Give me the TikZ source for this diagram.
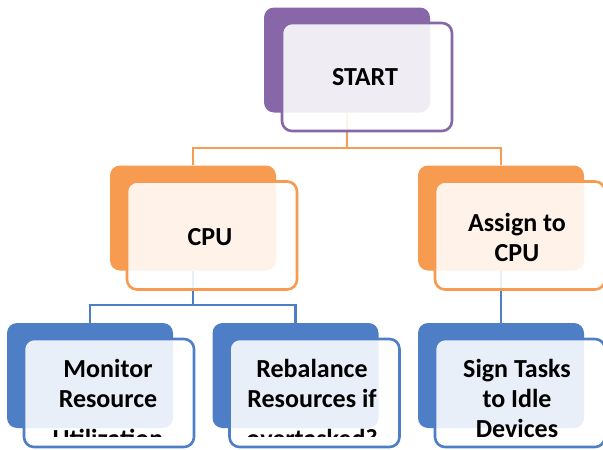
\documentclass[tikz,border=0pt]{standalone}
\usepackage{fontspec}
\setmainfont{Carlito}
\definecolor{cpurple}{HTML}{8767A8}
\definecolor{corange}{HTML}{F79B50}
\definecolor{cblue}{HTML}{4E7FC6}
\begin{document}
\begin{tikzpicture}[x=1pt,y=-1pt,
  backbox/.style={draw=none,fill=#1,rounded corners=10pt,minimum width=166pt,minimum height=105pt,inner sep=0pt},
  frontbox/.style={draw=#1,line width=2.6pt,fill=white,fill opacity=0.88,rounded corners=10pt,minimum width=170pt,minimum height=108pt,inner sep=0pt},
  label/.style={font=\fontsize{26}{30}\selectfont\bfseries,align=center,text=black,inner sep=0pt},
  link/.style={draw=#1,line width=2.3pt}]
\useasboundingbox (0,0) rectangle (603,450);
% back boxes
\node[backbox=cpurple] (sb) at (347,60) {};
\node[backbox=corange] (cb) at (193,218) {};
\node[backbox=corange] (ab) at (501,218) {};
\node[backbox=cblue] (mb) at (90,375.5) {};
\node[backbox=cblue] (rb) at (295.5,375.5) {};
\node[backbox=cblue] (gb) at (501,375.5) {};
% connectors
\coordinate (j1) at (347,148);
\coordinate (j2) at (193,305);
\draw[link=corange] (sb.south) -- (j1);
\draw[link=corange] (cb.north) |- (j1) -| (ab.north);
\draw[link=cblue] (cb.south) -- (j2);
\draw[link=cblue] (mb.north) |- (j2) -| (rb.north);
\draw[link=cblue] (ab.south) -- (gb.north);
% front boxes
\node[frontbox=cpurple] (sf) at (367,77) {};
\node[frontbox=corange] (cf) at (212,235.5) {};
\node[frontbox=corange] (af) at (520,235.5) {};
\node[frontbox=cblue] (mf) at (109,393) {};
\node[frontbox=cblue] (rf) at (314.5,393) {};
\node[frontbox=cblue] (gf) at (520,393) {};
% texts
\node[label] (st) at (365,77) {START};
\node[label] (ct) at (210,237) {CPU};
\node[label] (at) at (517,237) {Assign to\\CPU};
\node[label] (gt) at (517,398) {Sign Tasks\\to Idle\\Devices};
\begin{scope}
\clip (0,330) rectangle (603,436);
\node[label] (mt) at (108,403) {Monitor\\Resource\\[10pt]Utilization};
\node[label] (rt) at (312,403) {Rebalance\\Resources if\\[10pt]overtasked?};
\end{scope}
\end{tikzpicture}
\end{document}
